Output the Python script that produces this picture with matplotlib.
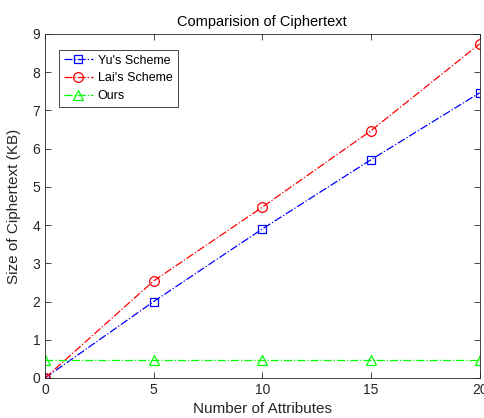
import matplotlib
matplotlib.use("Agg")
import matplotlib.pyplot as plt

x = [0, 5, 10, 15, 20]
yu = [0.0, 2.0, 3.9, 5.71, 7.46]
lai = [0.0, 2.54, 4.47, 6.47, 8.74]
ours = [0.46, 0.46, 0.46, 0.46, 0.46]

plt.rcParams['font.family'] = ['Liberation Sans', 'DejaVu Sans']
fig = plt.figure(figsize=(4.84, 4.18), dpi=100)
ax = fig.add_axes([0.093, 0.0957, 0.898, 0.823])

ax.plot(x, yu, color='#0000ff', linestyle='-.', marker='s', markersize=6,
        markerfacecolor='none', markeredgewidth=0.9, linewidth=0.9, label="Yu's Scheme")
ax.plot(x, lai, color='#ff0000', linestyle='-.', marker='o', markersize=7,
        markerfacecolor='none', markeredgewidth=0.9, linewidth=0.9, label="Lai's Scheme")
ax.plot(x, ours, color='#00ff00', linestyle='-.', marker='^', markersize=7,
        markerfacecolor='none', markeredgewidth=0.9, linewidth=0.9, label="Ours")

ax.set_xlim(0, 20)
ax.set_ylim(0, 9)
ax.set_xticks([0, 5, 10, 15, 20])
ax.set_yticks(range(0, 10))
ax.tick_params(direction='in', top=True, right=True, labelsize=10, length=4, width=0.6, colors='#262626')
for s in ax.spines.values():
    s.set_linewidth(0.6)
    s.set_color('#262626')
ax.set_xlabel('Number of Attributes', fontsize=11, color='#262626', labelpad=4)
ax.set_ylabel('Size of Ciphertext (KB)', fontsize=11, color='#262626', labelpad=8)
ax.set_title('Comparision of Ciphertext', fontsize=10.5, color='#000000', pad=6)
leg = ax.legend(loc='upper left', bbox_to_anchor=(0.018, 0.972), fontsize=9,
                fancybox=False, edgecolor='#262626', framealpha=1,
                handlelength=2.3, borderpad=0.4, labelspacing=0.45, handletextpad=0.4)
leg.get_frame().set_linewidth(0.6)

fig.savefig('out.png', dpi=100)
